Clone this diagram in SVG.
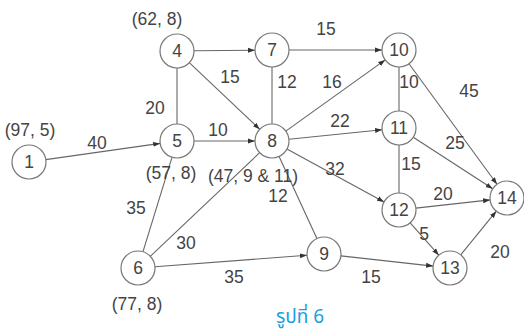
<svg xmlns="http://www.w3.org/2000/svg" width="524" height="332" viewBox="0 0 524 332">
<style>
.n circle{fill:#fff;stroke:#777;stroke-width:1.2}
text{font-family:"Liberation Sans",Arial,sans-serif;font-size:17.5px;fill:#444;text-anchor:middle;dominant-baseline:central}
.e line{stroke:#666;stroke-width:1.1}
.a{marker-end:url(#ah)}
.cap{font-family:"Noto Sans Thai","Noto Sans","DejaVu Sans",sans-serif;font-size:19px;fill:#1a9fe0}
</style>
<defs>
<marker id="ah" markerUnits="userSpaceOnUse" markerWidth="8" markerHeight="6" refX="7" refY="3" orient="auto">
<path d="M0,0.5 L7,3 L0,5.5 z" fill="#333"/>
</marker>
</defs>
<rect width="524" height="332" fill="#fff"/>
<g id="connectors" class="e">
<line class="a" x1="45.8" y1="159.6" x2="160.2" y2="143.4"/>
<line class="a" x1="194" y1="50.8" x2="255" y2="50.2"/>
<line class="a" x1="189.3" y1="62.7" x2="259.7" y2="129.3"/>
<line x1="177" y1="68" x2="177" y2="124"/>
<line class="a" x1="194" y1="141" x2="255" y2="141"/>
<line x1="272" y1="67" x2="272" y2="124"/>
<line class="a" x1="289" y1="50" x2="382" y2="50"/>
<line class="a" x1="285.8" y1="131.1" x2="385.2" y2="59.9"/>
<line class="a" x1="288.9" y1="139.3" x2="382.1" y2="129.7"/>
<line class="a" x1="286.9" y1="149.1" x2="384.1" y2="201.9"/>
<line x1="279.1" y1="156.4" x2="316.9" y2="238.6"/>
<line x1="172" y1="157.3" x2="143" y2="251.7"/>
<line x1="150.3" y1="256.3" x2="259.7" y2="152.7"/>
<line class="a" x1="155" y1="266.7" x2="307" y2="255.3"/>
<line class="a" x1="340.9" y1="255.9" x2="433.1" y2="266.1"/>
<line x1="399" y1="67" x2="399" y2="111"/>
<line class="a" x1="409" y1="63.7" x2="497" y2="184.3"/>
<line class="a" x1="413.3" y1="137.2" x2="492.7" y2="188.8"/>
<line x1="399" y1="145" x2="399" y2="193"/>
<line class="a" x1="415.9" y1="208.1" x2="490.1" y2="199.9"/>
<line class="a" x1="410.2" y1="222.8" x2="438.8" y2="255.2"/>
<line class="a" x1="460.7" y1="254.8" x2="496.3" y2="211.2"/>
</g>
<g id="edge-labels">
<text x="97" y="143">40</text>
<text x="155" y="108">20</text>
<text x="230" y="77">15</text>
<text x="218" y="130">10</text>
<text x="326" y="29">15</text>
<text x="287" y="82">12</text>
<text x="332" y="82">16</text>
<text x="409" y="82">10</text>
<text x="469" y="91">45</text>
<text x="340" y="121">22</text>
<text x="455" y="143">25</text>
<text x="335" y="169">32</text>
<text x="411" y="164">15</text>
<text x="278" y="196">12</text>
<text x="443" y="194">20</text>
<text x="424" y="234">5</text>
<text x="500" y="252">20</text>
<text x="136" y="208">35</text>
<text x="186" y="243">30</text>
<text x="234" y="277">35</text>
<text x="371" y="277">15</text>
</g>
<g id="node-labels">
<text x="157" y="19">(62, 8)</text>
<text x="30" y="130">(97, 5)</text>
<text x="171" y="173">(57, 8)</text>
<text x="253" y="176">(47, 9 &amp; 11)</text>
<text x="137" y="304">(77, 8)</text>
</g>
<g id="node1" class="n"><circle cx="29" cy="162" r="17"/><text x="29" y="162">1</text></g>
<g id="node4" class="n"><circle cx="177" cy="51" r="17"/><text x="177" y="51">4</text></g>
<g id="node5" class="n"><circle cx="177" cy="141" r="17"/><text x="177" y="141">5</text></g>
<g id="node6" class="n"><circle cx="138" cy="268" r="17"/><text x="138" y="268">6</text></g>
<g id="node7" class="n"><circle cx="272" cy="50" r="17"/><text x="272" y="50">7</text></g>
<g id="node8" class="n"><circle cx="272" cy="141" r="17"/><text x="272" y="141">8</text></g>
<g id="node9" class="n"><circle cx="324" cy="254" r="17"/><text x="324" y="254">9</text></g>
<g id="node10" class="n"><circle cx="399" cy="50" r="17"/><text x="399" y="50">10</text></g>
<g id="node11" class="n"><circle cx="399" cy="128" r="17"/><text x="399" y="128">11</text></g>
<g id="node12" class="n"><circle cx="399" cy="210" r="17"/><text x="399" y="210">12</text></g>
<g id="node13" class="n"><circle cx="450" cy="268" r="17"/><text x="450" y="268">13</text></g>
<g id="node14" class="n"><circle cx="507" cy="198" r="17"/><text x="507" y="198">14</text></g>
<text class="cap" x="300" y="317">รูปที่ 6</text>
</svg>
